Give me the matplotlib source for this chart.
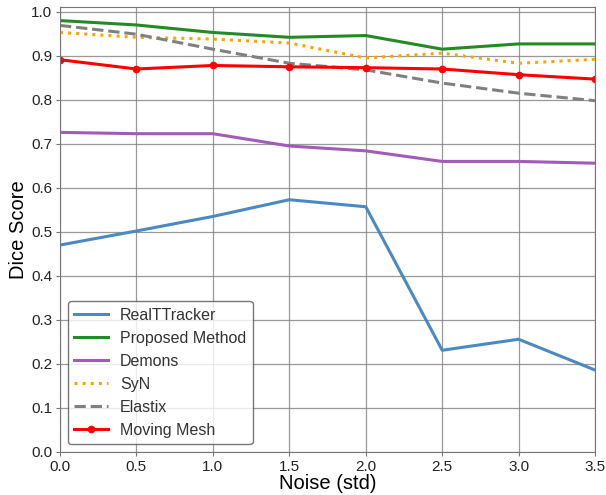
import matplotlib.pyplot as plt

plt.rcParams['font.family'] = ['Liberation Sans', 'DejaVu Sans']

noise = [0.0, 0.5, 1.0, 1.5, 2.0, 2.5, 3.0, 3.5]
realttracker = [0.470, 0.502, 0.535, 0.573, 0.557, 0.231, 0.256, 0.186]
proposed = [0.980, 0.970, 0.953, 0.942, 0.946, 0.915, 0.927, 0.927]
demons = [0.726, 0.723, 0.723, 0.695, 0.684, 0.660, 0.660, 0.656]
syn = [0.953, 0.942, 0.938, 0.929, 0.895, 0.906, 0.883, 0.892]
elastix = [0.969, 0.949, 0.915, 0.883, 0.868, 0.838, 0.815, 0.798]
moving_mesh = [0.891, 0.870, 0.878, 0.875, 0.873, 0.870, 0.857, 0.847]


def main():
    fig = plt.figure(figsize=(6.06, 4.95), dpi=100)
    ax = fig.add_axes([0.099, 0.087, 0.883, 0.899])

    lw = 2.2
    ax.plot(noise, realttracker, color="#4a8ac4", lw=lw, label="RealTTracker")
    ax.plot(noise, proposed, color="#238b23", lw=lw, label="Proposed Method")
    ax.plot(noise, demons, color="#a25cb8", lw=lw, label="Demons")
    ax.plot(noise, syn, color="orange", lw=lw, ls=":", label="SyN")
    ax.plot(noise, elastix, color="gray", lw=lw, ls="--", label="Elastix")
    ax.plot(noise, moving_mesh, color="red", lw=lw, marker="o", ms=4.5,
            label="Moving Mesh")

    ax.set_xlim(0, 3.5)
    ax.set_ylim(0, 1.011)
    ax.set_xticks(noise)
    ax.set_yticks([i / 10 for i in range(11)])
    ax.tick_params(labelsize=11, length=3, pad=2.5,
                   color="#777777", colors="#222222")
    ax.grid(True, color="gray", lw=0.9, alpha=0.8)
    ax.set_axisbelow(True)
    for s in ax.spines.values():
        s.set_color("#777777")

    ax.set_xlabel("Noise (std)", fontsize=14.5, labelpad=0)
    ax.set_ylabel("Dice Score", fontsize=14.5, labelpad=2)
    leg = ax.legend(loc="lower left", fontsize=11.5, edgecolor="#555555",
                    fancybox=True, handlelength=2.1, handletextpad=0.75)
    for t in leg.get_texts():
        t.set_color("#333333")

    fig.savefig("out.png", dpi=100)


if __name__ == "__main__":
    main()
